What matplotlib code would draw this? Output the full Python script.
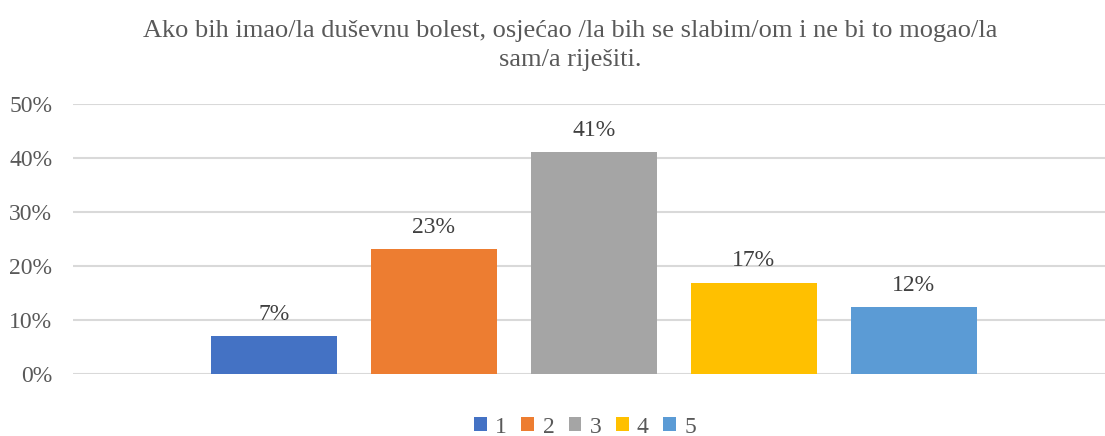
import matplotlib.pyplot as plt
from matplotlib.patches import Patch

# chart data
title = "Ako bih imao/la duševnu bolest, osjećao /la bih se slabim/om i ne bi to mogao/la\nsam/a riješiti."
series = ["1", "2", "3", "4", "5"]
values = [0.069, 0.232, 0.411, 0.169, 0.123]
labels = ["7%", "23%", "41%", "17%", "12%"]
colors = ["#4472C4", "#ED7D31", "#A5A5A5", "#FFC000", "#5B9BD5"]
yticks = [0, 0.1, 0.2, 0.3, 0.4, 0.5]
ytick_labels = ["0%", "10%", "20%", "30%", "40%", "50%"]

plt.rcParams['font.family'] = ['Liberation Serif', 'DejaVu Serif']
txt = "#595959"

fig = plt.figure(figsize=(11.05, 4.36), dpi=100)
ax = fig.add_axes([73 / 1105, 1 - 373.5 / 436, 1 - 73 / 1105, (373.5 - 104.5) / 436])

x = list(range(len(series)))
bars = ax.bar(x, values, width=0.79, color=colors, zorder=3)
for xi, v, lab in zip(x, values, labels):
    ax.text(xi, v + 0.03, lab, ha="center", va="baseline", fontsize=17, color="#404040")

ax.set_xlim(-1.256, 5.194)
ax.set_ylim(0, 0.5)
ax.set_yticks(yticks)
ax.set_yticklabels(ytick_labels, fontsize=17, color=txt)
ax.set_xticks([])
ax.tick_params(axis="y", length=0, pad=15)
ax.grid(axis="y", color="#D9D9D9", linewidth=1.5, zorder=0)
for s in ax.spines.values():
    s.set_visible(False)

fig.text(570 / 1105, 1 - 66 / 436, title, ha="center", va="baseline", fontsize=19,
         color=txt, linespacing=1.4, multialignment="center")

handles = [Patch(facecolor=c, label=s) for c, s in zip(colors, series)]
fig.legend(handles=handles, loc="center", bbox_to_anchor=(585 / 1105, 1 - 427 / 436),
           ncol=5, frameon=False, fontsize=17, handlelength=0.55, handleheight=0.55,
           handletextpad=0.35, columnspacing=0.6, labelcolor=txt)

fig.savefig("out.png", dpi=100)
